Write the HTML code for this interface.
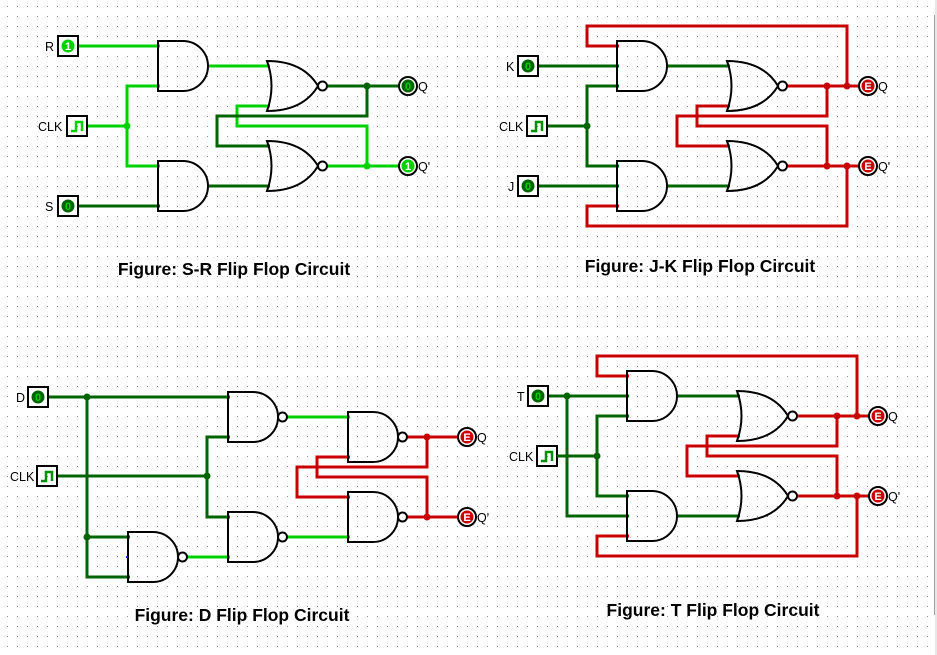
<!DOCTYPE html>
<html><head><meta charset="utf-8"><style>
html,body{margin:0;padding:0;background:#fff;}
svg{display:block;}
text{font-family:"Liberation Sans",Arial,sans-serif;}
.t{font-weight:bold;font-size:17.5px;fill:#000;text-anchor:middle;}
.l{font-size:12.5px;fill:#000;}
.g{fill:none;stroke:#000;stroke-width:2;}
.lg{fill:none;stroke:#00d200;stroke-width:3;}
.dg{fill:none;stroke:#006400;stroke-width:3;}
.rd{fill:none;stroke:#c80000;stroke-width:3;}
.v{font-size:11px;font-weight:bold;fill:#fff;text-anchor:middle;}
</style></head><body>
<svg width="937" height="655" viewBox="0 0 937 655" xmlns="http://www.w3.org/2000/svg">
<defs>
<pattern id="dots" width="10" height="10" patternUnits="userSpaceOnUse"><rect x="7" y="6" width="1" height="1" fill="#8a8a8a"/></pattern>
<g id="and"><path class="g" d="M0,0 h25 a25,25 0 0 1 0,50 h-25 z" fill="#fff"/></g>
<g id="nand"><path class="g" d="M0,0 h25 a25,25 0 0 1 0,50 h-25 z" fill="#fff"/><circle class="g" cx="54.5" cy="25" r="4.5" fill="#fff"/></g>
<g id="nor"><path class="g" d="M0,0 Q9,25 0,50 Q36,50 51,25 Q36,0 0,0 z" fill="#fff"/><circle class="g" cx="55.5" cy="25" r="4.5" fill="#fff"/></g>
<g id="clk"><rect class="g" x="-10" y="-10" width="20" height="20" fill="#fff"/><path d="M-6,5 h5 v-9 h6 v9" fill="none" stroke="#009000" stroke-width="2.5"/></g>
<g id="clkl"><rect class="g" x="-10" y="-10" width="20" height="20" fill="#fff"/><path d="M-6,5 h5 v-9 h6 v9" fill="none" stroke="#00d200" stroke-width="2.5"/></g>
</defs>
<rect width="937" height="655" fill="#fff"/>
<rect width="934" height="655" fill="url(#dots)"/>
<rect x="934" y="15" width="1" height="600" fill="#a0a0a0"/>
<rect x="935" y="0" width="2" height="655" fill="#e8e8e8"/>

<!-- ===== S-R ===== -->
<path class="lg" d="M78,46 H160 M87,126 H127 M160,86 H127 V166 H160 M207,66 H270 M327,166 H399 M367,166 V126 H237 V106 H270"/>
<path class="dg" d="M78,206 H160 M207,186 H270 M327,86 H399 M367,86 V116 H217 V146 H270"/>
<use href="#and" x="158" y="41"/><use href="#and" x="158" y="161"/>
<use href="#nor" x="267" y="61"/><use href="#nor" x="267" y="141"/>
<circle cx="127" cy="126" r="3.5" fill="#00d200"/>
<circle cx="367" cy="86" r="3.5" fill="#006400"/>
<circle cx="367" cy="166" r="3.5" fill="#00d200"/>
<rect class="g" x="58" y="36" width="20" height="20" fill="#fff"/><circle cx="68" cy="46" r="6.5" fill="#00d200"/><text class="v" x="68" y="50">1</text>
<rect class="g" x="58" y="196" width="20" height="20" fill="#fff"/><circle cx="68" cy="206" r="6.5" fill="#006400"/><text class="v" x="68" y="210" style="fill:#00d200">0</text>
<use href="#clkl" x="77" y="126"/>
<text class="l" x="45" y="51">R</text><text class="l" x="45" y="211">S</text><text class="l" x="38" y="131">CLK</text>
<circle class="g" cx="408" cy="86" r="9" fill="#fff"/><circle cx="408" cy="86" r="6.5" fill="#006400"/><text class="v" x="408" y="90" style="fill:#00d200">0</text>
<circle class="g" cx="408" cy="166" r="9" fill="#fff"/><circle cx="408" cy="166" r="6.5" fill="#00d200"/><text class="v" x="408" y="170">1</text>
<text class="l" x="418" y="91">Q</text><text class="l" x="418" y="171">Q'</text>
<text class="t" x="234" y="275">Figure: S-R Flip Flop Circuit</text>

<!-- ===== J-K ===== -->
<path class="dg" d="M538,66 H619 M538,186 H619 M547,126 H587 M619,86 H587 V166 H619 M667,66 H730 M667,186 H730"/>
<path class="rd" d="M619,46 H587 V26 H847 V86 M619,206 H587 V226 H847 V166 M787,86 H859 M787,166 H859 M827,86 V116 H677 V146 H730 M827,166 V126 H697 V106 H730"/>
<use href="#and" x="617" y="41"/><use href="#and" x="617" y="161"/>
<use href="#nor" x="727" y="61"/><use href="#nor" x="727" y="141"/>
<circle cx="587" cy="126" r="3.5" fill="#006400"/>
<circle cx="827" cy="86" r="3.5" fill="#c80000"/><circle cx="847" cy="86" r="3.5" fill="#c80000"/>
<circle cx="827" cy="166" r="3.5" fill="#c80000"/><circle cx="847" cy="166" r="3.5" fill="#c80000"/>
<rect class="g" x="518" y="56" width="20" height="20" fill="#fff"/><circle cx="528" cy="66" r="6.5" fill="#006400"/><text class="v" x="528" y="70" style="fill:#00d200">0</text>
<rect class="g" x="518" y="176" width="20" height="20" fill="#fff"/><circle cx="528" cy="186" r="6.5" fill="#006400"/><text class="v" x="528" y="190" style="fill:#00d200">0</text>
<use href="#clk" x="537" y="126"/>
<text class="l" x="506" y="71">K</text><text class="l" x="508" y="191">J</text><text class="l" x="499" y="131">CLK</text>
<circle class="g" cx="868" cy="86" r="9" fill="#fff"/><circle cx="868" cy="86" r="6.5" fill="#c80000"/><text class="v" x="868" y="90">E</text>
<circle class="g" cx="868" cy="166" r="9" fill="#fff"/><circle cx="868" cy="166" r="6.5" fill="#c80000"/><text class="v" x="868" y="170">E</text>
<text class="l" x="878" y="91">Q</text><text class="l" x="878" y="171">Q'</text>
<text class="t" x="700" y="272">Figure: J-K Flip Flop Circuit</text>

<!-- ===== D ===== -->
<path class="dg" d="M48,397 H230 M87,397 V577 H130 M87,537 H130 M57,476 H207 M230,437 H207 V517 H230"/>
<path class="lg" d="M287,417 H350 M287,537 H350 M187,557 H230"/>
<path class="rd" d="M407,437 H459 M407,517 H459 M427,437 V467 H297 V497 H350 M427,517 V477 H317 V457 H350"/>
<use href="#nand" x="228" y="392"/><use href="#nand" x="228" y="512"/>
<use href="#nand" x="128" y="532"/>
<use href="#nand" x="348" y="412"/><use href="#nand" x="348" y="492"/>
<circle cx="87" cy="397" r="3.5" fill="#006400"/><circle cx="87" cy="537" r="3.5" fill="#006400"/>
<circle cx="207" cy="476" r="3.5" fill="#006400"/>
<circle cx="427" cy="437" r="3.5" fill="#c80000"/><circle cx="427" cy="517" r="3.5" fill="#c80000"/>
<rect x="126" y="556" width="2" height="2" fill="#2020ff"/>
<rect class="g" x="28" y="387" width="20" height="20" fill="#fff"/><circle cx="38" cy="397" r="6.5" fill="#006400"/><text class="v" x="38" y="401" style="fill:#00d200">0</text>
<use href="#clk" x="47" y="476"/>
<text class="l" x="16" y="402">D</text><text class="l" x="10" y="481">CLK</text>
<circle class="g" cx="467" cy="437" r="9" fill="#fff"/><circle cx="467" cy="437" r="6.5" fill="#c80000"/><text class="v" x="467" y="441">E</text>
<circle class="g" cx="467" cy="517" r="9" fill="#fff"/><circle cx="467" cy="517" r="6.5" fill="#c80000"/><text class="v" x="467" y="521">E</text>
<text class="l" x="477" y="442">Q</text><text class="l" x="477" y="522">Q'</text>
<text class="t" x="242" y="621">Figure: D Flip Flop Circuit</text>

<!-- ===== T ===== -->
<path class="dg" d="M548,396 H629 M567,396 V516 H629 M557,456 H597 M629,416 H597 V496 H629 M677,396 H740 M677,516 H740"/>
<path class="rd" d="M629,376 H597 V356 H857 V416 M629,536 H597 V556 H857 V496 M797,416 H869 M797,496 H869 M837,416 V446 H687 V476 H740 M837,496 V456 H707 V436 H740"/>
<use href="#and" x="627" y="371"/><use href="#and" x="627" y="491"/>
<use href="#nor" x="737" y="391"/><use href="#nor" x="737" y="471"/>
<circle cx="567" cy="396" r="3.5" fill="#006400"/><circle cx="597" cy="456" r="3.5" fill="#006400"/>
<circle cx="837" cy="416" r="3.5" fill="#c80000"/><circle cx="857" cy="416" r="3.5" fill="#c80000"/>
<circle cx="837" cy="496" r="3.5" fill="#c80000"/><circle cx="857" cy="496" r="3.5" fill="#c80000"/>
<rect class="g" x="528" y="386" width="20" height="20" fill="#fff"/><circle cx="538" cy="396" r="6.5" fill="#006400"/><text class="v" x="538" y="400" style="fill:#00d200">0</text>
<use href="#clk" x="547" y="456"/>
<path class="dg" d="M557,456 H575"/>
<text class="l" x="517" y="401">T</text><text class="l" x="509" y="461">CLK</text>
<circle class="g" cx="878" cy="416" r="9" fill="#fff"/><circle cx="878" cy="416" r="6.5" fill="#c80000"/><text class="v" x="878" y="420">E</text>
<circle class="g" cx="878" cy="496" r="9" fill="#fff"/><circle cx="878" cy="496" r="6.5" fill="#c80000"/><text class="v" x="878" y="500">E</text>
<text class="l" x="888" y="421">Q</text><text class="l" x="888" y="501">Q'</text>
<text class="t" x="713" y="616">Figure: T Flip Flop Circuit</text>
</svg>
</body></html>
